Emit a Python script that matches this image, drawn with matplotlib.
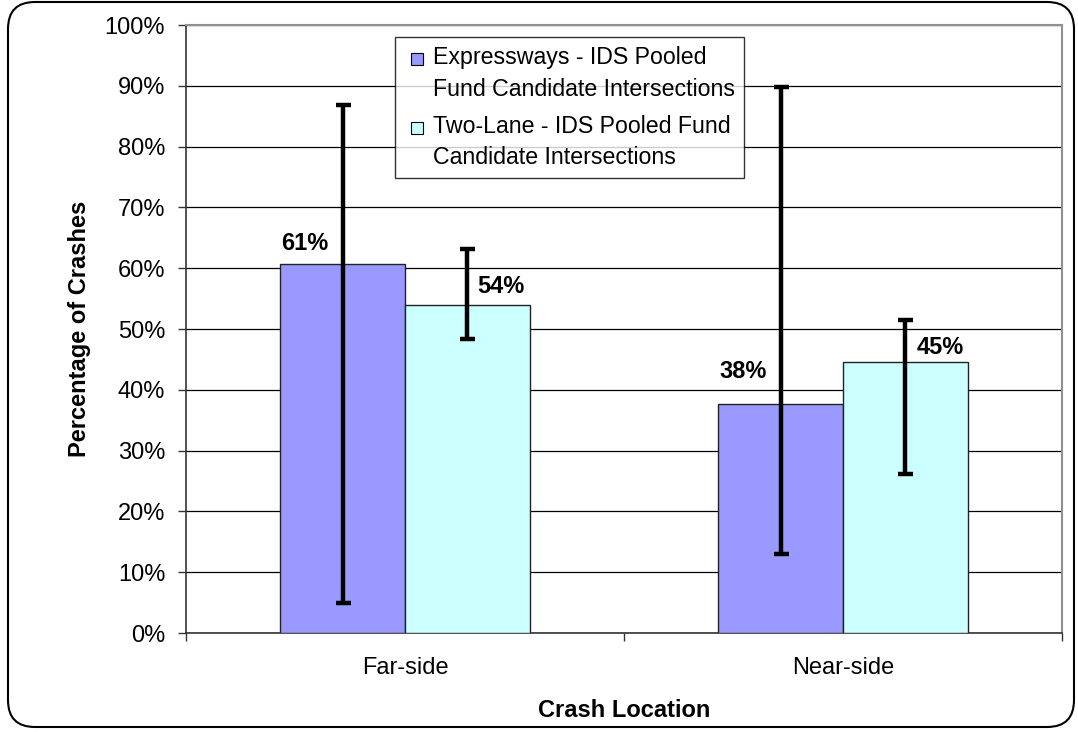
import matplotlib
matplotlib.use("Agg")
import matplotlib.pyplot as plt
import numpy as np
from matplotlib.patches import Rectangle, FancyBboxPatch
from matplotlib.legend_handler import HandlerPatch

# ---- data ----
categories = ["Far-side", "Near-side"]
series_names = ["Expressways - IDS Pooled\nFund Candidate Intersections",
                "Two-Lane - IDS Pooled Fund\nCandidate Intersections"]
expressway_vals = [60.7, 37.6]
twolane_vals = [54.0, 44.5]
expressway_err_low = [4.9, 13.0]
expressway_err_high = [86.9, 89.8]
twolane_err_low = [48.4, 26.2]
twolane_err_high = [63.1, 51.5]
expressway_labels = ["61%", "38%"]
twolane_labels = ["54%", "45%"]
yticks = [0, 10, 20, 30, 40, 50, 60, 70, 80, 90, 100]
ytick_labels = [f"{v}%" for v in yticks]

# ---- style ----
plt.rcParams['font.family'] = ['Liberation Sans', 'DejaVu Sans']
FS = 17
LFS = 16.7
col_exp = "#9999FF"
col_two = "#CCFFFF"

fig = plt.figure(figsize=(10.78, 7.32), dpi=100)
ax = fig.add_axes([186/1078, 1-633/732, (1062-186)/1078, (633-25)/732])

x = np.arange(len(categories))
w = 0.285

b1 = ax.bar(x - w/2, expressway_vals, w, color=col_exp, edgecolor="#222222", linewidth=1.0, zorder=3)
b2 = ax.bar(x + w/2, twolane_vals, w, color=col_two, edgecolor="#222222", linewidth=1.0, zorder=3)

exp_v = np.array(expressway_vals)
two_v = np.array(twolane_vals)
ax.errorbar(x - w/2, exp_v,
            yerr=[exp_v - np.array(expressway_err_low), np.array(expressway_err_high) - exp_v],
            fmt='none', ecolor='black', elinewidth=3.2, capsize=5.4, capthick=3.2, zorder=4)
ax.errorbar(x + w/2, two_v,
            yerr=[two_v - np.array(twolane_err_low), np.array(twolane_err_high) - two_v],
            fmt='none', ecolor='black', elinewidth=3.2, capsize=5.4, capthick=3.2, zorder=4)

# data labels (offsets in points)
exp_offsets = [(-27, 15), (-27, 24)]
two_offsets = [(24, 13), (25, 11)]
for i in range(len(categories)):
    ax.annotate(expressway_labels[i], (x[i] - w/2, expressway_vals[i]),
                xytext=exp_offsets[i], textcoords='offset points',
                ha='center', va='center', fontsize=FS, fontweight='bold', zorder=5)
    ax.annotate(twolane_labels[i], (x[i] + w/2, twolane_vals[i]),
                xytext=two_offsets[i], textcoords='offset points',
                ha='center', va='center', fontsize=FS, fontweight='bold', zorder=5)

ax.set_ylim(0, 100)
ax.set_xlim(-0.5, len(categories) - 0.5)
ax.set_yticks(yticks)
ax.set_yticklabels(ytick_labels, fontsize=FS)
ax.set_xticks(x)
ax.set_xticklabels(categories, fontsize=FS)
ax.set_xticks(np.arange(-0.5, len(categories), 1.0), minor=True)
ax.tick_params(axis='x', which='major', length=0, pad=17)
ax.tick_params(axis='x', which='minor', length=6, width=1, color='#333333', direction='out')
ax.tick_params(axis='y', length=6, width=1, color='#333333', direction='out', pad=9)
ax.yaxis.grid(True, color='black', linewidth=0.9, zorder=0)
ax.set_axisbelow(True)
for s in ['left', 'bottom']:
    ax.spines[s].set_color('#333333')
    ax.spines[s].set_linewidth(1.2)
for s in ['top', 'right']:
    ax.spines[s].set_color('#909090')
    ax.spines[s].set_linewidth(1.5)

ax.set_xlabel("Crash Location", fontsize=FS, fontweight='bold', labelpad=15)
ax.set_ylabel("Percentage of Crashes", fontsize=FS, fontweight='bold', labelpad=10)

# legend with handle aligned to the first line of each label
def top_square(legend, orig_handle, xdescent, ydescent, width, height, fontsize):
    s = 0.52 * fontsize
    return Rectangle((-xdescent + width - s - 0.2 * fontsize, -ydescent + 0.72 * fontsize), s, s)

leg = ax.legend([b1.patches[0], b2.patches[0]], series_names, loc='upper left',
                bbox_to_anchor=(395/1078, 1-37/732), bbox_transform=fig.transFigure,
                fontsize=LFS, frameon=True, fancybox=False, edgecolor='black',
                handlelength=1.0, handleheight=0.6, handletextpad=0.22,
                labelspacing=0.62, borderpad=0.4, borderaxespad=0,
                handler_map={Rectangle: HandlerPatch(patch_func=top_square)})
for t in leg.get_texts():
    t.set_linespacing(1.46)
leg.get_frame().set_linewidth(1.0)
for h in leg.legend_handles:
    h.set_edgecolor('black')
    h.set_linewidth(0.8)
leg.set_zorder(6)

# outer rounded border
border = FancyBboxPatch((8/1078, 5/732), (1074-8)/1078, (730-5)/732,
                        boxstyle="round,pad=0,rounding_size=0.025",
                        transform=fig.transFigure, facecolor='none',
                        edgecolor='black', linewidth=1.5, mutation_aspect=1078/732)
fig.patches.append(border)

fig.savefig("out.png", dpi=100)
